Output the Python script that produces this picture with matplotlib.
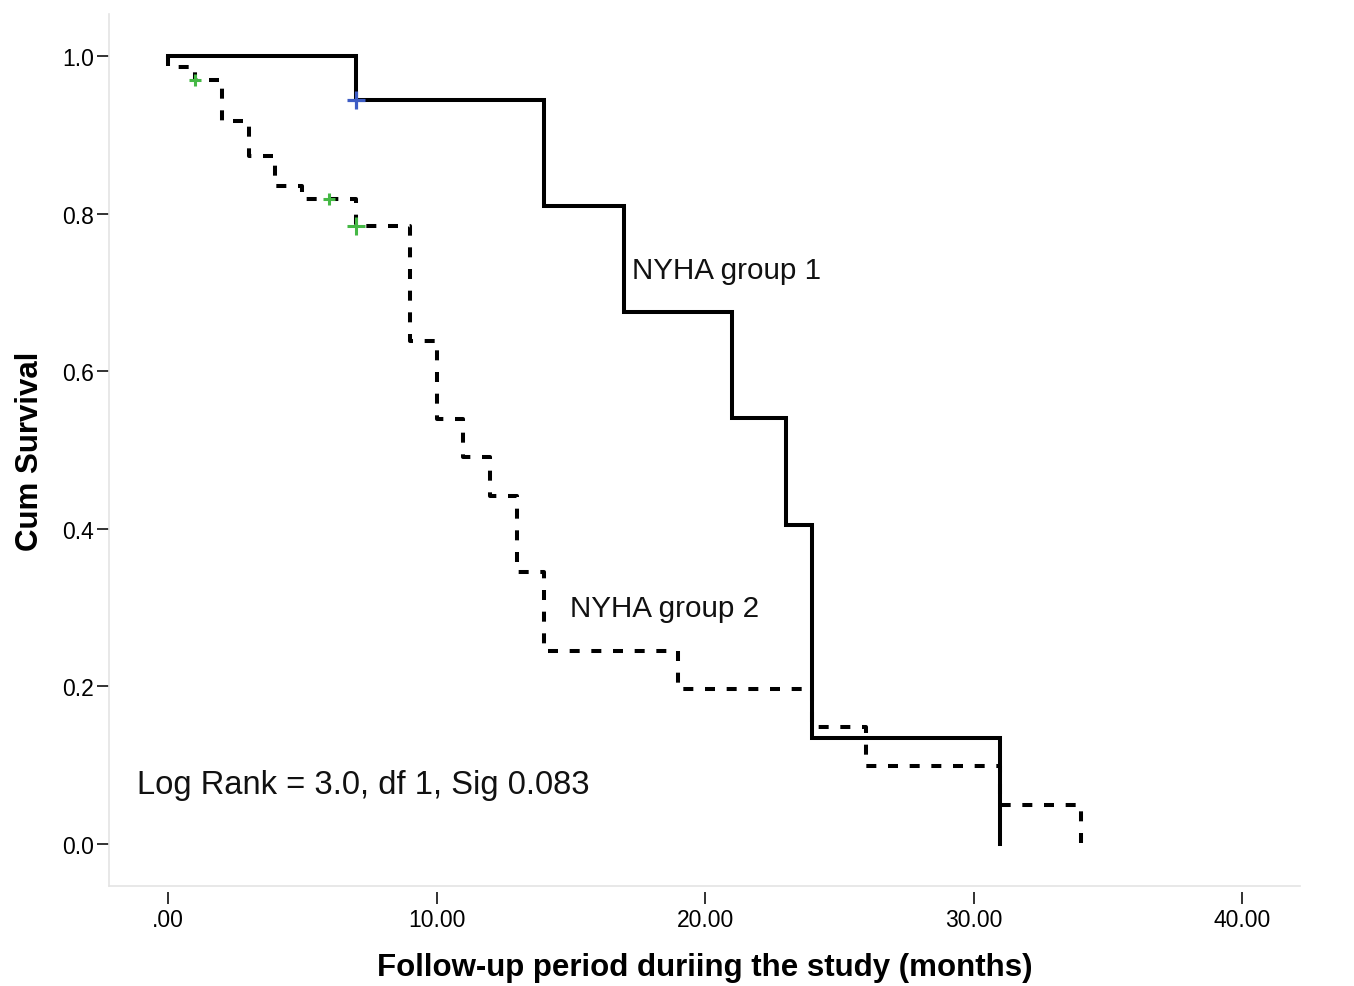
import matplotlib
matplotlib.use("Agg")
import matplotlib.pyplot as plt

plt.rcParams["font.family"] = ["Liberation Sans", "DejaVu Sans"]
plt.rcParams["lines.scale_dashes"] = False

# NYHA group 1 (solid)
g1_time = [0, 7, 14, 17, 21, 23, 24, 31]
g1_surv = [1.0, 0.944, 0.81, 0.675, 0.54, 0.405, 0.135, 0.0]
g1_cens_time = [7]
g1_cens_surv = [0.944]

# NYHA group 2 (dashed)
g2_time = [0, 0, 1, 2, 3, 4, 5, 7, 9, 10, 11, 12, 13, 14, 19, 24, 26, 31, 34]
g2_surv = [1.0, 0.986, 0.969, 0.918, 0.873, 0.835, 0.818, 0.784, 0.638,
           0.539, 0.491, 0.442, 0.345, 0.245, 0.197, 0.148, 0.099, 0.05, 0.0]
g2_cens_time = [1, 6, 7]
g2_cens_surv = [0.969, 0.818, 0.784]
g2_cens_size = [9, 9, 12.5]

x_ticks = [0, 10, 20, 30, 40]
x_ticklabels = [".00", "10.00", "20.00", "30.00", "40.00"]
y_ticks = [0.0, 0.2, 0.4, 0.6, 0.8, 1.0]
y_ticklabels = ["0.0", "0.2", "0.4", "0.6", "0.8", "1.0"]

fig = plt.figure(figsize=(13.54, 9.87), dpi=100)
ax = fig.add_axes([0.0805, 0.1013, 0.8796, 0.8835])

ax.step(g2_time, g2_surv, where="post", color="black", lw=2.9,
        dashes=(7.2, 8.4), dash_capstyle="butt", solid_joinstyle="miter")
ax.step(g1_time, g1_surv, where="post", color="black", lw=2.9,
        solid_joinstyle="miter")
ax.plot(g1_cens_time, g1_cens_surv, "+", color="#3d5cc4", ms=12.5, mew=2.3, zorder=4)
for t, s, m in zip(g2_cens_time, g2_cens_surv, g2_cens_size):
    ax.plot(t, s, "+", color="#45b845", ms=m, mew=2.2, zorder=4)

ax.set_xlim(-2.2, 42.16)
ax.set_ylim(-0.0533, 1.0533)

ax.text(17.28, 0.728, "NYHA group 1", fontsize=21.3, va="center", ha="left", color="#111111")
ax.text(14.97, 0.2995, "NYHA group 2", fontsize=21.3, va="center", ha="left", color="#111111")
ax.text(-1.17, 0.076, "Log Rank = 3.0, df 1, Sig 0.083", fontsize=23.6, va="center",
        ha="left", color="#111111")

for side in ["top", "right"]:
    ax.spines[side].set_visible(False)
ax.spines["left"].set_color("#e4e4e4")
ax.spines["left"].set_linewidth(1.2)
# x ticks sit a few pixels below the light frame line
ax.spines["bottom"].set_position(("outward", 4))
ax.spines["bottom"].set_visible(False)
ax.plot([0, 1], [0, 0], transform=ax.transAxes, color="#e4e4e4", lw=1.2, clip_on=False)

ax.set_xticks(x_ticks)
ax.set_xticklabels(x_ticklabels, fontsize=16.5)
ax.set_yticks(y_ticks)
ax.set_yticklabels(y_ticklabels, fontsize=16.5)
ax.tick_params(axis="y", direction="out", length=9, width=1.3, color="#222222", pad=2)
ax.tick_params(axis="x", direction="out", length=8.5, width=1.3, color="#222222", pad=3)

ax.set_xlabel("Follow-up period duriing the study (months)", fontsize=22.5,
              fontweight="bold")
ax.xaxis.set_label_coords(0.5, -0.0757)
ax.set_ylabel("Cum Survival", fontsize=22.5, fontweight="bold", labelpad=12)

fig.savefig("out.png", dpi=100)
